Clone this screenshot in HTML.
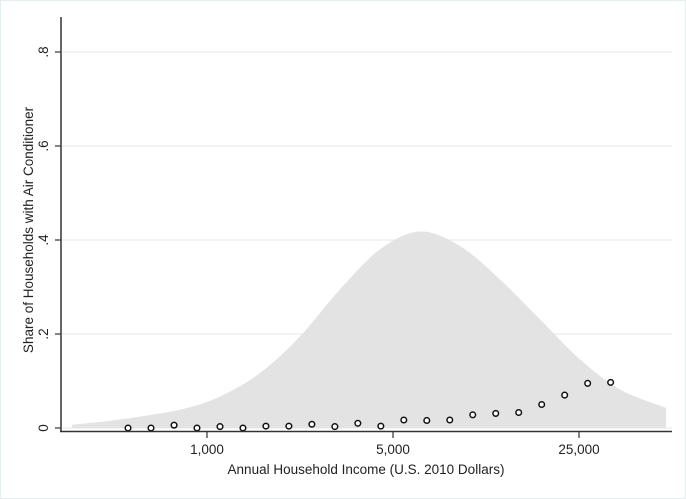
<!DOCTYPE html>
<html><head><meta charset="utf-8"><style>
body{margin:0;background:#fff;}
svg{display:block;font-family:"Liberation Sans",Arial,sans-serif;}
</style></head><body>
<svg id="chart" width="686" height="499" viewBox="0 0 686 499">
<rect x="0.5" y="0.5" width="685" height="498" fill="#fff" stroke="#e4eef0"/>
<g id="grid"></g>
<path id="density" fill="#e3e3e3" stroke="none"/>
<g id="dots"></g>
<line x1="61" y1="17" x2="61" y2="432" stroke="#333" stroke-width="1.5"/>
<line x1="60" y1="431.5" x2="672" y2="431.5" stroke="#333" stroke-width="1.5"/>
<g id="yticks"></g>
<g id="xticks"></g>
<text transform="translate(33,230) rotate(-90)" text-anchor="middle" font-size="13.5" fill="#222">Share of Households with Air Conditioner</text>
<text x="366" y="474" text-anchor="middle" font-size="13.5" fill="#222">Annual Household Income (U.S. 2010 Dollars)</text>
</svg>
<script>
const yTicks=[0,0.2,0.4,0.6,0.8];
const yTickLabels=["0",".2",".4",".6",".8"];
const xTicks=[1000,5000,25000];
const xTickLabels=["1,000","5,000","25,000"];
const pointIncome=[505,616,752,917,1119,1365,1665,2031,2478,3023,3688,4500,5490,6698,8171,9969,12162,14838,18102,22085,26944,32871];
const pointShare=[0,0,0.006,0,0.003,0,0.004,0.004,0.008,0.003,0.010,0.004,0.017,0.016,0.017,0.028,0.031,0.033,0.050,0.070,0.095,0.097];
const densIncome=[311,471,792,1119,1582,2236,3161,4469,6317,8928,12622,17840,25220,35650,53080];
const densValue=[0.007,0.018,0.039,0.067,0.117,0.195,0.295,0.38,0.418,0.387,0.316,0.231,0.146,0.082,0.043];

const NS="http://www.w3.org/2000/svg";
function xs(v){return 207+186*Math.log(v/1000)/Math.log(5);}
function ys(v){return 428-470*v;}
function mk(tag,attrs,parent){const e=document.createElementNS(NS,tag);for(const k in attrs)e.setAttribute(k,attrs[k]);parent.appendChild(e);return e;}

const grid=document.getElementById('grid');
const yt=document.getElementById('yticks');
yTicks.forEach((t,i)=>{
  const y=ys(t);
  const g=mk('line',{x1:62,x2:672,y1:y,y2:y,stroke:'#e6eef1','stroke-width':1.2},grid);
  
  
  const tk=mk('line',{x1:55,x2:61,y1:y,y2:y,stroke:'#333','stroke-width':1.2},yt);
  
  
  const lb=mk('text',{transform:`translate(48,${y}) rotate(-90)`,'text-anchor':'middle','font-size':13.5,fill:'#222'},yt);
  
  
  lb.textContent=yTickLabels[i];
});
const xt=document.getElementById('xticks');
xTicks.forEach((t,i)=>{
  const x=xs(t);
  const tk=mk('line',{x1:x,x2:x,y1:432,y2:438,stroke:'#333','stroke-width':1.2},xt);
  
  
  const lb=mk('text',{x:x,y:454,'text-anchor':'middle','font-size':13.5,fill:'#222'},xt);
  
  
  lb.textContent=xTickLabels[i];
});

const pts=densIncome.map((v,i)=>[xs(v),ys(densValue[i])]);
let d=`M${pts[0][0]},${ys(0)} L${pts[0][0]},${pts[0][1]}`;
for(let i=0;i<pts.length-1;i++){
  const p0=pts[Math.max(0,i-1)],p1=pts[i],p2=pts[i+1],p3=pts[Math.min(pts.length-1,i+2)];
  const c1=[p1[0]+(p2[0]-p0[0])/6,p1[1]+(p2[1]-p0[1])/6];
  const c2=[p2[0]-(p3[0]-p1[0])/6,p2[1]-(p3[1]-p1[1])/6];
  d+=` C${c1[0]},${c1[1]} ${c2[0]},${c2[1]} ${p2[0]},${p2[1]}`;
}
d+=` L${pts[pts.length-1][0]},${ys(0)} Z`;
document.getElementById('density').setAttribute('d',d);

const dots=document.getElementById('dots');
pointIncome.forEach((v,i)=>{
  const c=mk('circle',{cx:xs(v),cy:ys(pointShare[i]),r:2.8,fill:'#fff',stroke:'#111','stroke-width':1.5},dots);
  
  
});
</script>
</body></html>
